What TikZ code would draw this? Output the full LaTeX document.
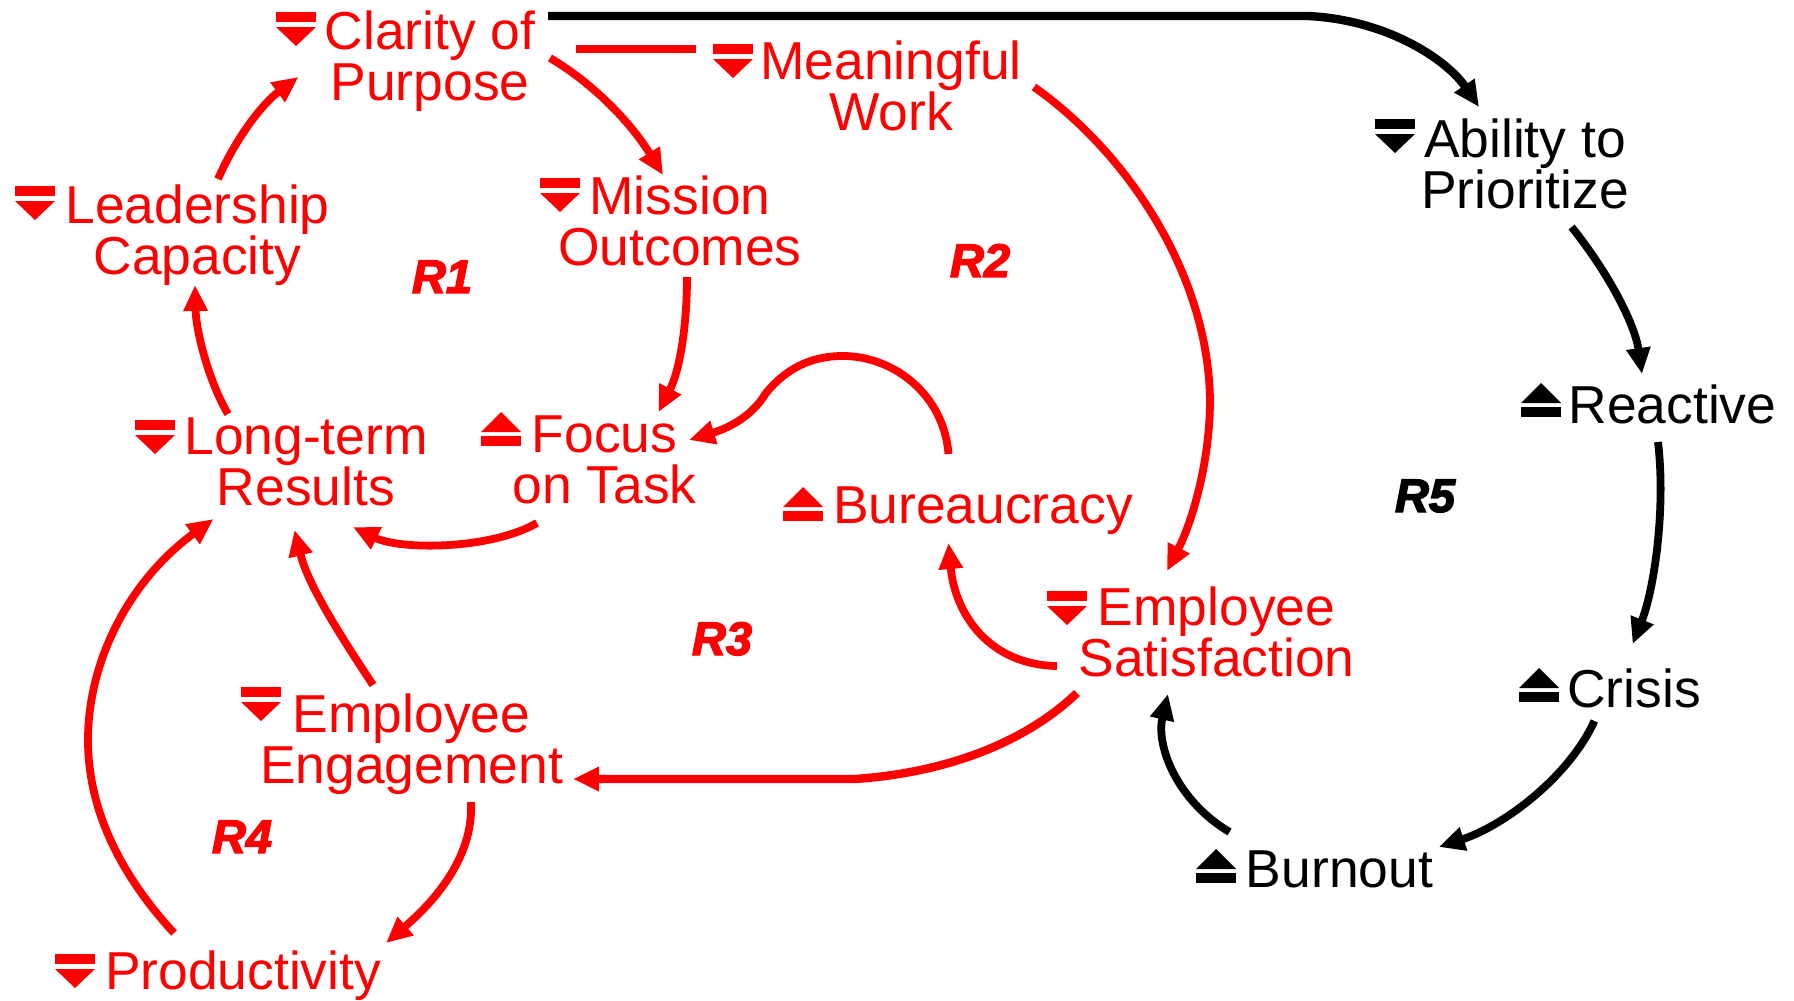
\documentclass[tikz,border=0pt]{standalone}
\usepackage{fontspec}
\setmainfont{Liberation Sans}
\newfontface\loopfont[FakeBold=3]{Liberation Sans Bold Italic}
\usetikzlibrary{arrows.meta,calc}
\definecolor{sysred}{HTML}{FF0000}
\begin{document}
\begin{tikzpicture}[x=0.5pt,y=-0.5pt,
  var/.style={anchor=base,inner sep=0pt,align=center,font=\fontsize{26.7}{25.5}\selectfont},
  loopid/.style={anchor=base,inner sep=0pt,font=\fontsize{23.5}{25}\loopfont},
  lnk/.style={line width=3.9pt,-{Triangle[length=13pt,width=11.5pt]}},
  stub/.style={line width=4.4pt},
  pics/trenddown/.style={code={
    \fill[#1] (0,0) rectangle (40,10);
    \fill[#1] (0,15) -- (40,15) -- (20,34) -- cycle;}},
  pics/trendup/.style={code={
    \fill[#1] (20,0) -- (40,20) -- (0,20) -- cycle;
    \fill[#1] (0,24) rectangle (40,34);}}
]
\useasboundingbox (0,0) rectangle (1794,1001);

% variables
\node[var,sysred] (clarity)  at (430,100)  {Clarity of\\Purpose};
\node[var,sysred] (meaning)  at (891,130)  {Meaningful\\Work};
\node[var,sysred] (mission)  at (680,265)  {Mission\\Outcomes};
\node[var,sysred] (leader)   at (197.5,274){Leadership\\Capacity};
\node[var,sysred] (longterm) at (306,505)  {Long-term\\Results};
\node[var,sysred] (focus)    at (604.5,503){Focus\\on Task};
\node[var,sysred] (bureau)   at (983,523)  {Bureaucracy};
\node[var,sysred] (satisf)   at (1216.5,676) {Employee\\Satisfaction};
\node[var,sysred] (engage)   at (411.5,783)  {Employee\\Engagement};
\node[var,sysred] (product)  at (243,989){Productivity};
\node[var,black]  (ability)  at (1525,208) {Ability to\\Prioritize};
\node[var,black]  (reactive) at (1672.5,423) {Reactive};
\node[var,black]  (crisis)   at (1634,707) {Crisis};
\node[var,black]  (burnout)  at (1339.5,887){Burnout};

% trend symbols
\pic at (276,12)   {trenddown=sysred};
\pic at (713,44)   {trenddown=sysred};
\pic at (540,178)  {trenddown=sysred};
\pic at (15,186)   {trenddown=sysred};
\pic at (135,420)  {trenddown=sysred};
\pic at (481,412)  {trendup=sysred};
\pic at (783,487)  {trendup=sysred};
\pic at (1047,591) {trenddown=sysred};
\pic at (241,687)  {trenddown=sysred};
\pic at (55,954)   {trenddown=sysred};
\pic at (1375,119) {trenddown=black};
\pic at (1521,383) {trendup=black};
\pic at (1519,668) {trendup=black};
\pic at (1196,849) {trendup=black};

% loop identifiers
\node[loopid,sysred] (r1) at (442,293) {R1};
\node[loopid,sysred] (r2) at (980,277) {R2};
\node[loopid,sysred] (r3) at (722,655) {R3};
\node[loopid,sysred] (r4) at (242,853) {R4};
\node[loopid,black]  (r5) at (1425,512) {R5};

% red connectors
\draw[lnk,sysred] ($(leader.base)+(20.5,-95)$) .. controls (236,138) and (262,104) .. ($(clarity.base)+(-131.5,-23)$);
\draw[lnk,sysred] ($(clarity.base)+(120,-42)$) .. controls (594,84) and (631,123) .. ($(mission.base)+(-17,-90)$);
\draw[stub,sysred] ($(clarity.base)+(146,-51)$) -- ($(meaning.base)+(-195,-81)$);
\draw[lnk,sysred] ($(mission.base)+(7,12)$) .. controls (687,325) and (680,370) .. ($(focus.base)+(54,-91)$);
\draw[lnk,sysred] ($(longterm.base)+(-78,-91)$) .. controls (208,380) and (196,330) .. ($(leader.base)+(-2.5,11)$);
\draw[lnk,sysred] ($(bureau.base)+(-34.5,-69)$) .. controls (944,395) and (894,356) .. (843,356)
   .. controls (809,356) and (785,370) .. (766,393)
   .. controls (750,420) and (722,430) .. ($(focus.base)+(84.5,-63)$);
\draw[lnk,sysred] ($(focus.base)+(-67.5,20)$) .. controls (490,550) and (400,550) .. ($(longterm.base)+(47,22)$);
\draw[lnk,sysred] ($(engage.base)+(-38.5,-98)$) .. controls (340,635) and (308,585) .. ($(longterm.base)+(-11.5,25)$);
\draw[lnk,sysred] ($(product.base)+(-69,-56)$) .. controls (116,870) and (88,805) .. (88,740)
   .. controls (88,660) and (130,580) .. ($(longterm.base)+(-92.5,14)$);
\draw[lnk,sysred] ($(engage.base)+(59.5,19)$) .. controls (474,860) and (430,905) .. ($(product.base)+(143,-46)$);
\draw[lnk,sysred,line width=4.2pt] ($(satisf.base)+(-139.5,17)$) .. controls (1030,738) and (955,772) .. (855,779) -- ($(engage.base)+(161.5,-4)$);
\draw[lnk,sysred] ($(satisf.base)+(-159.5,-10)$) .. controls (990,665) and (955,615) .. ($(bureau.base)+(-34.5,20)$);
\draw[lnk,sysred] ($(meaning.base)+(143,-43)$) .. controls (1123.5,150) and (1208,270) .. (1210,400)
   .. controls (1210,460) and (1193,520) .. ($(satisf.base)+(-49.5,-105)$);

% black connectors
\draw[lnk,black,line width=4.2pt] ($(clarity.base)+(118,-84)$) -- (1308,16) .. controls (1388,20) and (1447,60) .. ($(ability.base)+(-46,-101)$);
\draw[lnk,black] ($(ability.base)+(46.6,19)$) .. controls (1610,275) and (1635,325) .. ($(reactive.base)+(-30.5,-49)$);
\draw[lnk,black] ($(reactive.base)+(-14.5,19)$) .. controls (1666,510) and (1654,590) .. ($(crisis.base)+(-1.4,-63)$);
\draw[lnk,black] ($(crisis.base)+(-39.6,14)$) .. controls (1570,775) and (1506,825) .. ($(burnout.base)+(99.3,-40)$);
\draw[lnk,black] ($(burnout.base)+(-110,-55)$) .. controls (1176,800) and (1156,745) .. ($(satisf.base)+(-48.5,18)$);
\end{tikzpicture}
\end{document}
